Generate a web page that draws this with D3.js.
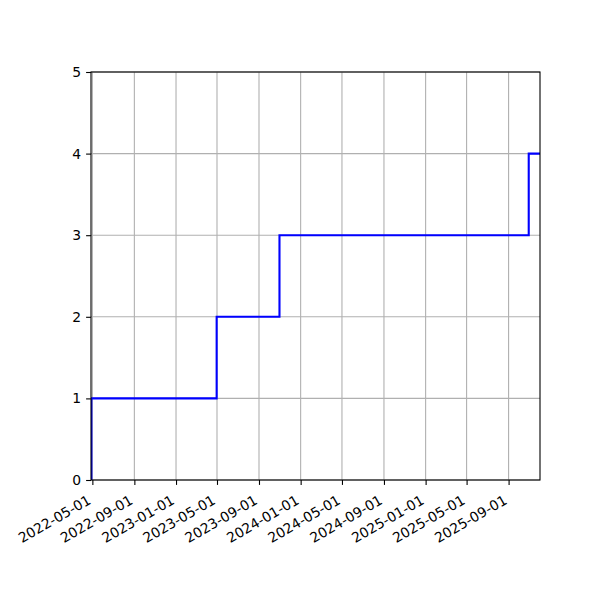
<!DOCTYPE html>
<html>
<head>
<meta charset="utf-8">
<script src="https://cdn.jsdelivr.net/npm/d3@7"></script>
<style>
  body { margin: 0; background: #fff; }
  svg { font-family: "DejaVu Sans", sans-serif; }
</style>
</head>
<body>
<div id="chart"></div>
<script>
// step dates and the cumulative count reached on each of them
const stepDates = ["2022-04-27", "2022-04-28", "2023-04-30", "2023-10-31", "2025-10-30"];
const counts = [0, 1, 2, 3, 4];
// axis range
const xRange = ["2022-04-27", "2025-12-02"];
const yTicks = [0, 1, 2, 3, 4, 5];

const parse = d3.timeParse("%Y-%m-%d");
const W = 600, H = 600;
const margin = { top: 72, right: 60, bottom: 120, left: 91 };
const width = W - margin.left - margin.right;
const height = H - margin.top - margin.bottom;

const svg = d3.select("#chart")
    .append("svg")
    .attr("width", W)
    .attr("height", H);

const g = svg.append("g")
    .attr("transform", "translate(" + margin.left + "," + margin.top + ")");

const xScale = d3.scaleTime()
    .domain(xRange.map(parse))
    .range([0, width]);
const yScale = d3.scaleLinear()
    .domain([0, 5])
    .range([height, 0]);

const xTicks = xScale.ticks(d3.timeMonth.every(4));

// grid
g.append("g")
    .selectAll("line")
    .data(xTicks)
    .join("line")
    .attr("x1", d => xScale(d)).attr("x2", d => xScale(d))
    .attr("y1", 0).attr("y2", height)
    .attr("stroke", "#b0b0b0").attr("stroke-width", 1.1);
g.append("g")
    .selectAll("line")
    .data(yTicks)
    .join("line")
    .attr("x1", 0).attr("x2", width)
    .attr("y1", d => yScale(d)).attr("y2", d => yScale(d))
    .attr("stroke", "#b0b0b0").attr("stroke-width", 1.1);

// step line
svg.append("clipPath").attr("id", "clip")
    .append("rect").attr("width", width).attr("height", height);

const points = stepDates.map((d, i) => [parse(d), counts[i]]);
points.push([parse(xRange[1]), counts[counts.length - 1]]);

const line = d3.line()
    .x(d => xScale(d[0]))
    .y(d => yScale(d[1]))
    .curve(d3.curveStepAfter);

g.append("path")
    .datum(points)
    .attr("clip-path", "url(#clip)")
    .attr("fill", "none")
    .attr("stroke", "#0000ff")
    .attr("stroke-width", 2.1)
    .attr("d", line);

// x axis
const xAxis = g.append("g")
    .attr("transform", "translate(0," + height + ")")
    .call(d3.axisBottom(xScale)
        .tickValues(xTicks)
        .tickFormat(d3.timeFormat("%Y-%m-%d"))
        .tickSize(4.9)
        .tickSizeOuter(0));
xAxis.select(".domain").remove();
xAxis.selectAll("line").attr("stroke", "#000").attr("stroke-width", 1.1);
xAxis.selectAll("text")
    .attr("font-size", 13.9)
    .attr("font-family", "DejaVu Sans")
    .attr("fill", "#000")
    .attr("y", 0).attr("dy", 0)
    .attr("text-anchor", "end")
    .attr("transform", "translate(-1,23) rotate(-30)");

// y axis
const yAxis = g.append("g")
    .call(d3.axisLeft(yScale)
        .tickValues(yTicks)
        .tickFormat(d3.format("d"))
        .tickSize(4.9)
        .tickPadding(4.9)
        .tickSizeOuter(0));
yAxis.select(".domain").remove();
yAxis.selectAll("line").attr("stroke", "#000").attr("stroke-width", 1.1);
yAxis.selectAll("text")
    .attr("font-size", 13.9)
    .attr("font-family", "DejaVu Sans")
    .attr("fill", "#000");

// frame
g.append("rect")
    .attr("width", width).attr("height", height)
    .attr("fill", "none")
    .attr("stroke", "#000").attr("stroke-width", 1.1);
</script>
</body>
</html>
